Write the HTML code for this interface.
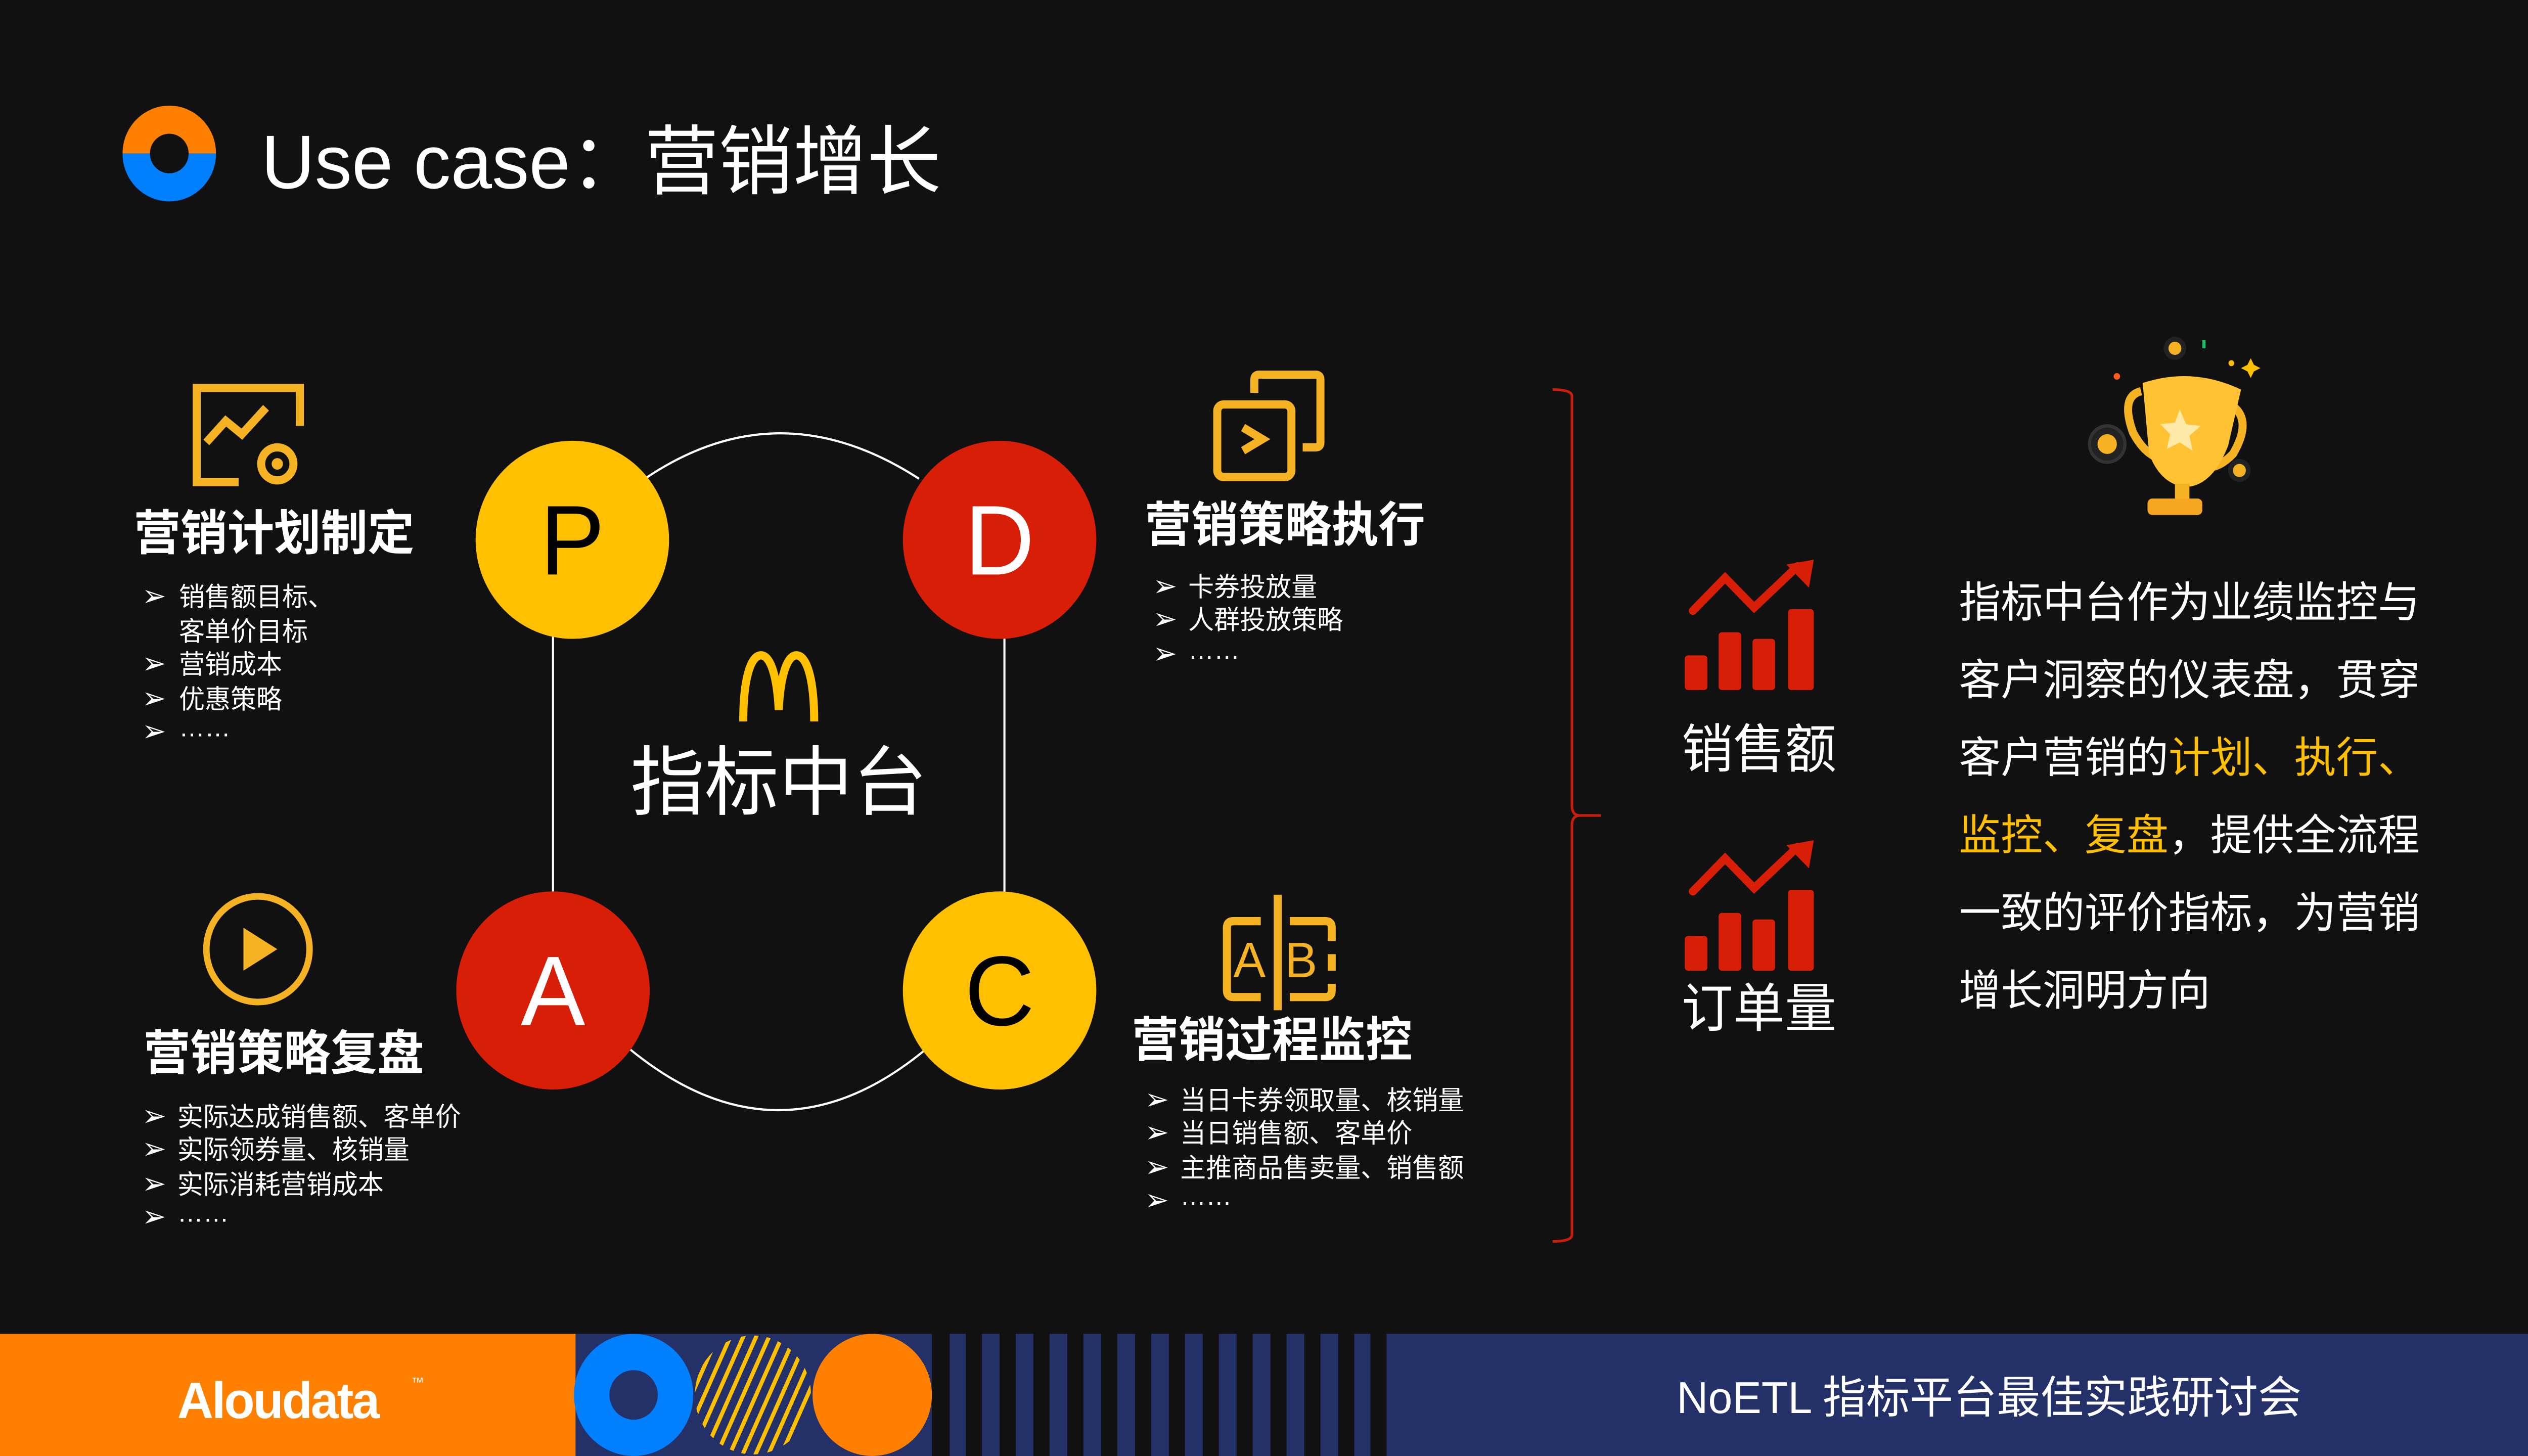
<!DOCTYPE html>
<html><head><meta charset="utf-8"><style>
html,body{margin:0;padding:0;background:#111;overflow:hidden;width:100%;height:100%;}
svg{display:block;width:100vw;height:100vh;}
text{font-family:"Liberation Sans","Noto Sans CJK SC",sans-serif;}
</style></head><body>
<svg width="5120" height="2880" viewBox="0 0 1568 882" preserveAspectRatio="none" xmlns="http://www.w3.org/2000/svg">
<defs>
<clipPath id="cs"><circle cx="467" cy="845" r="36"/></clipPath>
<clipPath id="ft"><rect x="0" y="808" width="1568" height="74"/></clipPath>
</defs>
<rect width="1568" height="882" fill="#111"/>
<!-- title -->
<path d="M76,93 A29,29 0 0 1 134,93 L117,93 A12,12 0 0 0 93,93 Z" fill="#FF8000"/>
<path d="M76,93 A29,29 0 0 0 134,93 L117,93 A12,12 0 0 1 93,93 Z" fill="#0080FF"/>
<text x="162" y="114" font-size="46" fill="#fff">Use case：营销增长</text>

<!-- cycle -->
<path d="M400,290 Q483,235 570,290" fill="none" stroke="#fff" stroke-width="1.3"/>
<path d="M390,635 Q483,710 575,635" fill="none" stroke="#fff" stroke-width="1.3"/>
<line x1="343" y1="385" x2="343" y2="542" stroke="#fff" stroke-width="1.3"/>
<line x1="623" y1="385" x2="623" y2="542" stroke="#fff" stroke-width="1.3"/>
<circle cx="355" cy="327" r="60" fill="#FFC000"/>
<circle cx="620" cy="327" r="60" fill="#D81E06"/>
<circle cx="343" cy="600" r="60" fill="#D81E06"/>
<circle cx="620" cy="600" r="60" fill="#FFC000"/>
<text x="355" y="348" font-size="60" fill="#000" text-anchor="middle">P</text>
<text x="620" y="348" font-size="60" fill="#fff" text-anchor="middle">D</text>
<text x="343" y="621" font-size="60" fill="#fff" text-anchor="middle">A</text>
<text x="620" y="621" font-size="60" fill="#000" text-anchor="middle">C</text>
<path d="M461,437 C461,410 466,397 472,397 C478,397 482,410 483,430 C484,410 488,397 494,397 C500,397 505,410 505,437" fill="none" stroke="#FFC000" stroke-width="5"/>
<text x="483" y="490" font-size="46" fill="#fff" text-anchor="middle">指标中台</text>

<!-- left top -->
<g fill="none" stroke="#F5B324" stroke-width="5">
<path d="M186,258 V235 H122 V292 H148"/>
<path d="M128,268 L140,255 L150,263 L165,247"/>
<circle cx="172" cy="281" r="10"/>
</g>
<circle cx="172" cy="281" r="3.5" fill="#F5B324"/>
<text x="83" y="333" font-size="29" font-weight="bold" fill="#fff">营销计划制定</text>
<g font-size="16" fill="#fff">
<text x="88" y="367" font-size="18">➢</text><text x="111" y="367">销售额目标、</text>
<text x="111" y="388">客单价目标</text>
<text x="88" y="408" font-size="18">➢</text><text x="111" y="408">营销成本</text>
<text x="88" y="429" font-size="18">➢</text><text x="111" y="429">优惠策略</text>
<text x="88" y="449" font-size="18">➢</text><text x="111" y="446">……</text>
</g>

<!-- left bottom -->
<circle cx="160" cy="575" r="32" fill="none" stroke="#F5B324" stroke-width="4"/>
<path d="M151,562 L172,575 L151,588 Z" fill="#F5B324"/>
<text x="89" y="648" font-size="29" font-weight="bold" fill="#fff">营销策略复盘</text>
<g font-size="16" fill="#fff">
<text x="88" y="682" font-size="18">➢</text><text x="110" y="682">实际达成销售额、客单价</text>
<text x="88" y="702" font-size="18">➢</text><text x="110" y="702">实际领券量、核销量</text>
<text x="88" y="723" font-size="18">➢</text><text x="110" y="723">实际消耗营销成本</text>
<text x="88" y="743" font-size="18">➢</text><text x="110" y="740">……</text>
</g>

<!-- right top -->
<g fill="none" stroke="#F5B324" stroke-width="5">
<path d="M778,238 V230 Q778,227 781,227 H816 Q819,227 819,230 V268 Q819,271 816,271 H808"/>
<rect x="755" y="245" width="46" height="44" rx="4"/>
<path d="M771,259 L783,266 L771,273"/>
</g>
<text x="710" y="328" font-size="29" font-weight="bold" fill="#fff">营销策略执行</text>
<g font-size="16" fill="#fff">
<text x="715" y="361" font-size="18">➢</text><text x="737" y="361">卡券投放量</text>
<text x="715" y="381" font-size="18">➢</text><text x="737" y="381">人群投放策略</text>
<text x="715" y="402" font-size="18">➢</text><text x="737" y="399">……</text>
</g>

<!-- right bottom -->
<g fill="none" stroke="#F5B324" stroke-width="5">
<path d="M782,558 H765 Q761,558 761,562 V600 Q761,604 765,604 H782"/>
<path d="M800,558 H822 Q826,558 826,562 V570 M826,578 V588 M826,596 V600 Q826,604 822,604 H800"/>
</g>
<rect x="790" y="542" width="5" height="70" fill="#F5B324"/>
<text x="765" y="592" font-size="30" fill="#F5B324">A</text>
<text x="797" y="592" font-size="30" fill="#F5B324">B</text>
<text x="702" y="640" font-size="29" font-weight="bold" fill="#fff">营销过程监控</text>
<g font-size="16" fill="#fff">
<text x="710" y="672" font-size="18">➢</text><text x="732" y="672">当日卡券领取量、核销量</text>
<text x="710" y="692" font-size="18">➢</text><text x="732" y="692">当日销售额、客单价</text>
<text x="710" y="713" font-size="18">➢</text><text x="732" y="713">主推商品售卖量、销售额</text>
<text x="710" y="733" font-size="18">➢</text><text x="732" y="730">……</text>
</g>

<!-- bracket -->
<path d="M963,236 Q975,236 975,240 V488 Q975,494 980,494 H993 M980,494 Q975,494 975,500 V748 Q975,752 963,752" fill="none" stroke="#C81E0A" stroke-width="1.6"/>

<!-- charts -->
<g id="ch">
<rect x="1045" y="397" width="14" height="21" rx="2" fill="#D81E06"/>
<rect x="1066" y="383" width="14" height="35" rx="2" fill="#D81E06"/>
<rect x="1087" y="387" width="14" height="31" rx="2" fill="#D81E06"/>
<rect x="1109" y="369" width="16" height="49" rx="2" fill="#D81E06"/>
<path d="M1050,370 L1070,350 L1088,368 L1115,343" fill="none" stroke="#D81E06" stroke-width="5" stroke-linecap="round"/>
<path d="M1108,342 L1125,339 L1122,356 Z" fill="#D81E06"/>
</g>
<use href="#ch" transform="translate(0,170)"/>
<text x="1043" y="465" font-size="32" fill="#fff">销售额</text>
<text x="1043" y="622" font-size="32" fill="#fff">订单量</text>

<!-- trophy -->
<g>
<circle cx="1307" cy="269" r="11" fill="#222" stroke="#333" stroke-width="2"/><circle cx="1307" cy="269" r="6" fill="#F5B324"/>
<circle cx="1349" cy="211" r="7" fill="#222"/><circle cx="1349" cy="211" r="4" fill="#F5B324"/>
<circle cx="1389" cy="285" r="7" fill="#222"/><circle cx="1389" cy="285" r="4" fill="#F5B324"/>
<path d="M1328,237 Q1315,240 1323,262 Q1330,275 1340,278" fill="none" stroke="#F5B324" stroke-width="5"/>
<path d="M1385,246 Q1397,255 1385,275 Q1377,283 1370,283" fill="none" stroke="#F5B324" stroke-width="5"/>
<path d="M1329,232 Q1360,222 1390,236 L1382,270 Q1372,295 1355,295 Q1340,293 1333,275 Z" fill="#FFC233"/>
<path d="M1352,248 L1356,257 L1365,258 L1358,264 L1360,273 L1352,268 L1344,272 L1346,263 L1340,257 L1349,256 Z" fill="#FFE9A8"/>
<rect x="1349" y="293" width="9" height="12" fill="#F5B324"/>
<rect x="1332" y="302" width="34" height="10" rx="3" fill="#F5A623"/>
<path d="M1396,217 l2,4 4,2 -4,2 -2,4 -2,-4 -4,-2 4,-2 z" fill="#FFC000"/>
<circle cx="1313" cy="228" r="2" fill="#FF5A1F"/><rect x="1366" y="206" width="2" height="5" fill="#1DC06A"/><circle cx="1384" cy="220" r="1.8" fill="#FFC000"/>
</g>

<!-- paragraph -->
<g font-size="26" fill="#fff">
<text x="1215" y="374">指标中台作为业绩监控与</text>
<text x="1215" y="421">客户洞察的仪表盘，贯穿</text>
<text x="1215" y="468">客户营销的<tspan fill="#FFC000">计划、执行、</tspan></text>
<text x="1215" y="515"><tspan fill="#FFC000">监控、复盘</tspan>，提供全流程</text>
<text x="1215" y="562">一致的评价指标，为营销</text>
<text x="1215" y="609">增长洞明方向</text>
</g>

<!-- footer -->
<rect x="0" y="808" width="357" height="74" fill="#FF8000"/>
<rect x="357" y="808" width="1211" height="74" fill="#243068"/>
<g clip-path="url(#ft)">
<circle cx="393" cy="845" r="37" fill="#0080FF"/>
<circle cx="393" cy="845" r="15" fill="#243068"/>
<g clip-path="url(#cs)" stroke="#FFC000" stroke-width="2.5">
<path d="M420,900 L470,790 M428,900 L478,790 M436,900 L486,790 M444,900 L494,790 M452,900 L502,790 M460,900 L510,790 M468,900 L518,790 M476,900 L526,790 M412,900 L462,790 M404,900 L454,790"/>
</g>
<circle cx="541" cy="845" r="37" fill="#FF8000"/>
</g>
<g fill="#111">
<rect x="578" y="808" width="11" height="74"/><rect x="599" y="808" width="10" height="74"/>
<rect x="620" y="808" width="10" height="74"/><rect x="641" y="808" width="10" height="74"/>
<rect x="662" y="808" width="10" height="74"/><rect x="683" y="808" width="10" height="74"/>
<rect x="704" y="808" width="10" height="74"/><rect x="725" y="808" width="10" height="74"/>
<rect x="746" y="808" width="10" height="74"/><rect x="767" y="808" width="10" height="74"/>
<rect x="788" y="808" width="10" height="74"/><rect x="809" y="808" width="10" height="74"/>
<rect x="830" y="808" width="10" height="74"/><rect x="850" y="808" width="10" height="74"/>
</g>
<text x="110" y="859" font-size="31" font-weight="bold" fill="#fff" letter-spacing="-1">Aloudata</text>
<text x="255" y="840" font-size="8" fill="#fff">™</text>
<text x="1040" y="856" font-size="27" fill="#fff">NoETL 指标平台最佳实践研讨会</text>
</svg>
</body></html>
